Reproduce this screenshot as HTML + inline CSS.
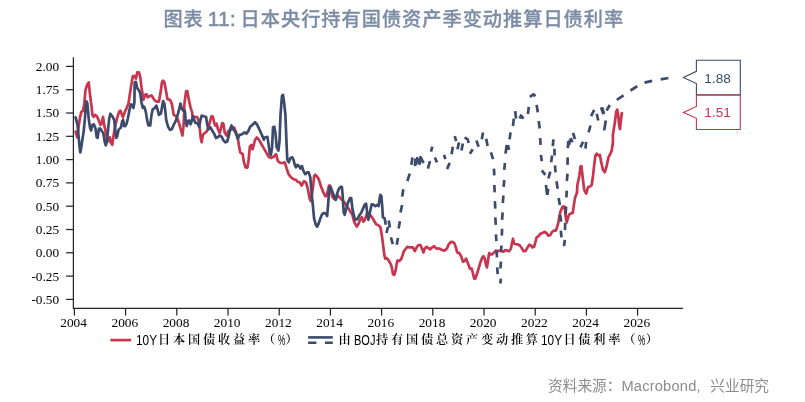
<!DOCTYPE html>
<html lang="zh-CN"><head><meta charset="utf-8"><title>图表 11</title>
<style>
html,body{margin:0;padding:0;background:#fff;}
body{width:805px;height:402px;position:relative;overflow:hidden;font-family:"Liberation Sans","Noto Sans CJK SC",sans-serif;}
.title{position:absolute;left:163.4px;top:5.0px;text-align:left;font-size:19.2px;font-weight:500;color:#7c8ca5;-webkit-text-stroke:0.3px #7c8ca5;white-space:nowrap;line-height:28px;letter-spacing:1.0px;word-spacing:-2px;}
.lg{position:absolute;top:329.2px;font-family:"Liberation Sans","Noto Serif CJK SC",serif;font-size:12.2px;font-weight:600;letter-spacing:2.8px;line-height:20px;color:#000;white-space:nowrap;}
.lg i{font-style:normal;display:inline-block;vertical-align:baseline;letter-spacing:0;font-family:"Liberation Sans",sans-serif;font-size:14.6px;height:14px;position:relative;top:0.5px;font-weight:400;}
.lg i b{font-weight:400;display:inline-block;transform-origin:0 50%;white-space:nowrap;}
.lg i.w3{width:22.5px;}
.lg i.w1{width:7.5px;}
.src{position:absolute;right:36px;top:374.7px;font-size:14.67px;line-height:22px;color:#8c8c8c;white-space:nowrap;letter-spacing:0;word-spacing:5.5px;}
.src span{letter-spacing:0.2px;}
.title b{font-weight:400;font-size:20px;-webkit-text-stroke:0.7px #7c8ca5;letter-spacing:0.6px;}
</style></head><body>
<div class="title">图表 <b>11:</b> 日本央行持有国债资产季变动推算日债利率</div>
<svg width="805" height="402" viewBox="0 0 805 402" style="position:absolute;left:0;top:0">
<g stroke="#262626" stroke-width="1.25" fill="none" shape-rendering="auto">
<path d="M73.4,57.2 V308.4 H683"/>
<path d="M66.1,66.4 H73.4"/>
<path d="M66.1,89.7 H73.4"/>
<path d="M66.1,113.0 H73.4"/>
<path d="M66.1,136.3 H73.4"/>
<path d="M66.1,159.6 H73.4"/>
<path d="M66.1,182.9 H73.4"/>
<path d="M66.1,206.2 H73.4"/>
<path d="M66.1,229.5 H73.4"/>
<path d="M66.1,252.8 H73.4"/>
<path d="M66.1,276.1 H73.4"/>
<path d="M66.1,299.4 H73.4"/>
<path d="M74.4,308.4 V315.6"/>
<path d="M125.6,308.4 V315.6"/>
<path d="M176.8,308.4 V315.6"/>
<path d="M228.0,308.4 V315.6"/>
<path d="M279.2,308.4 V315.6"/>
<path d="M330.4,308.4 V315.6"/>
<path d="M381.6,308.4 V315.6"/>
<path d="M432.8,308.4 V315.6"/>
<path d="M484.0,308.4 V315.6"/>
<path d="M535.2,308.4 V315.6"/>
<path d="M586.4,308.4 V315.6"/>
<path d="M637.6,308.4 V315.6"/>
</g>
<g font-family="'Liberation Serif', serif" font-size="13.33" fill="#000">
<text x="59.2" y="70.8" text-anchor="end">2.00</text>
<text x="59.2" y="94.1" text-anchor="end">1.75</text>
<text x="59.2" y="117.4" text-anchor="end">1.50</text>
<text x="59.2" y="140.7" text-anchor="end">1.25</text>
<text x="59.2" y="164.0" text-anchor="end">1.00</text>
<text x="59.2" y="187.3" text-anchor="end">0.75</text>
<text x="59.2" y="210.6" text-anchor="end">0.50</text>
<text x="59.2" y="233.9" text-anchor="end">0.25</text>
<text x="59.2" y="257.2" text-anchor="end">0.00</text>
<text x="59.2" y="280.5" text-anchor="end">-0.25</text>
<text x="59.2" y="303.8" text-anchor="end">-0.50</text>
<text x="73.6" y="327" text-anchor="middle">2004</text>
<text x="124.8" y="327" text-anchor="middle">2006</text>
<text x="176.0" y="327" text-anchor="middle">2008</text>
<text x="227.2" y="327" text-anchor="middle">2010</text>
<text x="278.4" y="327" text-anchor="middle">2012</text>
<text x="329.6" y="327" text-anchor="middle">2014</text>
<text x="380.8" y="327" text-anchor="middle">2016</text>
<text x="432.0" y="327" text-anchor="middle">2018</text>
<text x="483.2" y="327" text-anchor="middle">2020</text>
<text x="534.4" y="327" text-anchor="middle">2022</text>
<text x="585.6" y="327" text-anchor="middle">2024</text>
<text x="636.8" y="327" text-anchor="middle">2026</text>
</g>
<path d="M75.6,131.7 L77.2,137.3 L78.7,126.1 L80.0,117.4 L81.4,111.8 L83.1,110.6 L84.3,103.7 L85.5,89.9 L87.4,84.3 L88.7,82.4 L89.9,93.6 L91.8,108.5 L92.4,114.9 L93.6,116.8 L94.9,114.9 L96.7,116.2 L98.6,119.9 L100.5,124.9 L101.7,123.6 L103.0,116.8 L104.2,124.9 L106.1,133.6 L107.3,138.6 L108.6,141.0 L109.8,137.3 L111.0,142.9 L112.3,144.8 L113.5,136.1 L115.4,124.9 L117.3,117.4 L119.1,111.8 L120.4,110.6 L121.6,113.7 L122.9,117.4 L124.7,112.4 L126.6,108.1 L128.5,103.5 L130.9,87.4 L132.8,76.2 L134.7,76.2 L135.9,78.7 L137.2,72.4 L139.0,72.4 L140.3,77.4 L141.5,87.4 L143.4,99.8 L145.2,94.8 L146.5,94.2 L147.7,97.3 L149.6,96.1 L151.5,95.4 L152.7,97.3 L154.6,100.4 L157.1,101.7 L158.9,101.7 L160.8,91.1 L161.9,82.4 L163.1,80.6 L164.4,82.4 L165.6,88.7 L167.5,99.2 L170.0,99.9 L171.8,103.6 L173.7,114.8 L176.2,116.3 L178.0,119.9 L179.9,126.1 L181.4,131.7 L182.4,135.5 L183.4,127.4 L184.3,111.2 L184.3,104.8 L186.1,91.1 L187.4,91.1 L188.6,98.6 L190.5,107.3 L192.1,112.3 L192.6,117.4 L194.8,116.8 L197.3,117.4 L198.6,121.2 L199.8,128.6 L200.8,138.6 L201.7,142.3 L202.9,134.9 L204.8,133.0 L206.6,131.7 L208.5,127.4 L210.4,119.9 L211.6,116.2 L212.9,116.8 L214.1,122.4 L215.3,125.5 L216.6,123.7 L217.8,128.6 L219.7,133.0 L220.9,128.6 L222.2,123.0 L223.4,123.7 L224.7,132.4 L226.5,135.5 L228.4,131.1 L230.3,129.9 L232.1,129.3 L234.0,127.4 L235.9,131.7 L237.7,137.3 L239.0,146.0 L240.2,152.3 L242.7,154.1 L243.7,161.1 L245.5,167.3 L247.4,167.6 L248.6,159.9 L249.9,146.5 L251.4,145.0 L252.6,149.3 L255.0,140.0 L256.8,137.5 L258.7,139.4 L261.2,143.7 L263.7,148.1 L266.2,152.4 L268.7,156.8 L271.1,158.0 L273.6,156.8 L276.1,154.3 L278.0,161.1 L280.5,163.0 L283.0,163.0 L284.8,162.4 L286.7,168.6 L288.6,174.2 L291.0,177.3 L293.5,179.2 L296.0,179.8 L297.9,182.0 L299.8,182.3 L301.6,185.6 L304.1,181.2 L306.0,182.5 L307.8,188.7 L309.7,198.7 L310.7,201.1 L312.2,192.4 L313.4,183.7 L314.1,176.0 L315.3,174.8 L317.2,176.7 L319.0,179.8 L320.9,186.2 L323.4,192.4 L325.2,196.2 L326.5,196.2 L327.7,191.2 L329.0,185.6 L330.2,185.6 L331.5,193.7 L332.7,197.4 L334.6,199.3 L336.4,198.0 L337.7,195.5 L339.6,197.4 L342.0,199.9 L344.5,202.4 L347.0,206.1 L348.9,209.2 L352.4,214.8 L354.3,222.3 L356.8,226.6 L358.7,223.5 L360.5,218.6 L361.8,217.3 L363.4,221.7 L364.9,219.8 L366.7,214.2 L368.6,213.6 L370.5,215.4 L372.3,217.9 L374.2,221.0 L376.1,224.2 L378.6,225.4 L380.4,227.3 L381.8,235.0 L383.1,245.0 L384.3,254.9 L385.2,258.6 L386.8,258.0 L388.7,260.5 L390.5,263.6 L391.8,267.3 L393.0,274.2 L394.3,274.8 L395.5,271.1 L396.7,263.6 L397.6,260.5 L399.2,261.1 L401.1,259.3 L402.3,256.1 L403.6,251.8 L405.4,249.3 L407.3,246.8 L409.2,247.4 L411.0,247.4 L412.9,247.4 L414.8,251.2 L416.6,247.4 L418.5,245.0 L420.4,245.0 L422.0,248.7 L423.5,252.4 L424.7,248.7 L426.6,246.8 L428.5,248.1 L430.3,249.3 L432.2,247.4 L434.1,246.2 L435.9,248.1 L437.8,248.7 L439.7,248.7 L441.9,250.0 L444.4,250.6 L446.8,248.7 L448.7,244.4 L450.6,242.2 L452.4,241.9 L454.3,243.1 L455.9,247.5 L457.2,252.4 L459.3,253.1 L461.1,256.2 L463.0,261.8 L464.3,261.1 L466.1,258.7 L468.0,263.6 L469.9,268.6 L471.7,268.6 L473.0,273.6 L474.2,278.6 L475.4,278.6 L476.7,274.8 L478.6,268.6 L480.4,262.4 L482.3,257.4 L483.5,256.2 L484.8,258.7 L486.0,264.9 L487.0,267.4 L488.3,258.7 L489.1,253.1 L490.4,254.3 L492.2,254.3 L494.1,252.4 L496.0,250.6 L497.8,251.2 L499.7,250.6 L501.6,251.2 L503.4,251.8 L505.3,250.0 L507.2,250.6 L509.0,251.2 L510.9,248.7 L512.1,242.5 L513.0,238.7 L514.2,243.7 L516.1,244.3 L517.9,244.3 L519.8,245.5 L521.7,248.0 L523.5,251.1 L525.4,251.1 L527.3,248.0 L529.1,244.9 L531.0,245.5 L532.2,247.4 L534.1,246.8 L535.3,242.4 L536.6,237.4 L538.5,236.2 L540.3,233.7 L542.2,233.1 L544.7,231.8 L546.5,233.1 L548.4,235.6 L550.3,235.0 L552.1,231.8 L554.0,230.6 L555.9,230.6 L556.5,229.1 L558.4,222.3 L559.6,214.8 L560.8,210.5 L562.7,206.7 L564.6,206.7 L565.6,216.1 L566.7,222.3 L567.7,218.6 L568.9,214.8 L570.5,213.6 L572.7,213.0 L573.9,204.9 L575.1,197.4 L577.0,192.4 L577.4,185.0 L579.3,176.0 L580.5,166.7 L581.4,166.1 L582.4,174.8 L583.6,185.0 L584.2,189.9 L586.2,193.6 L588.0,187.4 L590.4,186.1 L591.7,185.0 L593.0,176.0 L594.2,164.9 L595.4,155.5 L596.7,153.7 L598.6,155.5 L599.8,154.9 L601.0,161.1 L602.9,169.8 L604.8,172.3 L606.6,166.1 L608.5,157.4 L610.4,153.7 L611.6,151.2 L612.9,142.5 L612.9,134.8 L614.7,123.6 L616.2,111.8 L617.2,109.6 L618.2,115.1 L619.1,124.9 L620.0,129.2 L620.9,119.9 L621.9,113.0" fill="none" stroke="#c8354e" stroke-width="2.7" stroke-linejoin="round" stroke-linecap="round"/>
<path d="M75.6,117.4 L77.5,124.9 L78.7,137.3 L79.7,148.5 L80.3,152.5 L81.2,148.0 L81.8,143.5 L83.7,131.1 L84.9,118.7 L85.9,104.0 L86.6,101.5 L87.4,103.5 L88.7,118.7 L90.1,128.0 L91.1,130.5 L92.4,124.9 L93.9,124.3 L95.5,128.6 L96.7,137.3 L97.6,137.9 L98.9,128.6 L100.5,128.6 L101.7,131.1 L103.3,133.0 L104.8,142.3 L105.8,145.4 L106.7,142.3 L107.9,131.1 L109.2,118.7 L110.4,113.7 L112.3,116.2 L114.2,119.9 L115.4,131.1 L116.3,137.9 L117.3,136.1 L118.5,129.9 L121.0,127.4 L122.2,121.1 L123.2,119.9 L124.1,126.1 L125.3,126.1 L126.6,123.6 L127.8,118.7 L129.7,108.7 L130.9,104.4 L132.2,105.0 L133.4,108.1 L134.4,102.5 L134.7,82.4 L135.9,81.8 L137.2,88.0 L139.0,90.5 L140.3,93.6 L141.5,102.3 L142.8,107.9 L143.4,106.2 L144.6,107.5 L145.9,112.4 L147.1,119.9 L148.4,125.5 L150.2,125.5 L151.5,114.9 L152.7,109.3 L154.6,108.1 L156.4,105.6 L157.7,110.0 L158.9,114.9 L160.8,113.7 L162.0,107.5 L162.0,107.3 L163.1,101.1 L164.4,103.6 L165.6,113.5 L166.2,119.9 L168.1,126.8 L170.0,129.9 L171.8,129.3 L173.7,124.9 L176.2,119.9 L178.0,113.7 L179.3,108.7 L180.5,103.6 L181.8,108.6 L183.0,110.4 L184.9,111.0 L185.5,118.7 L186.7,126.1 L188.0,121.2 L189.2,120.5 L190.5,124.3 L191.7,121.2 L193.0,116.2 L194.2,119.9 L195.4,123.0 L197.3,123.0 L199.2,126.8 L200.4,119.9 L201.7,115.6 L203.5,116.2 L206.0,116.8 L207.3,124.9 L208.5,129.3 L210.4,127.4 L212.2,130.5 L214.1,133.6 L216.0,138.0 L217.8,137.3 L219.7,135.5 L221.6,136.7 L223.4,140.4 L225.3,142.3 L227.2,141.7 L229.0,134.9 L230.3,128.6 L231.5,125.5 L233.4,129.3 L235.2,131.7 L236.5,134.9 L237.7,138.6 L239.6,134.9 L242.1,134.2 L244.6,132.4 L246.4,133.6 L248.3,131.1 L250.2,126.8 L252.5,124.8 L255.0,122.3 L256.8,124.2 L259.3,129.2 L261.8,134.8 L263.9,139.8 L263.9,137.5 L265.5,137.5 L267.4,136.9 L268.7,145.0 L269.9,153.7 L270.9,154.9 L272.1,147.4 L273.0,127.3 L274.3,126.7 L275.5,133.5 L276.7,147.4 L278.4,150.5 L279.5,141.2 L280.5,114.9 L282.0,95.6 L283.0,95.0 L284.1,102.4 L285.4,114.9 L286.7,147.4 L287.3,159.9 L288.8,162.4 L290.4,158.0 L292.3,157.4 L293.5,159.9 L294.8,164.9 L296.0,167.3 L297.3,164.9 L299.1,166.1 L300.4,168.6 L302.0,166.1 L303.5,171.1 L305.3,174.2 L307.2,172.3 L308.7,172.3 L310.3,177.3 L311.6,192.4 L312.8,204.9 L314.1,218.6 L315.9,224.8 L317.2,226.6 L318.4,224.2 L320.3,218.6 L322.1,214.2 L324.0,213.0 L325.9,213.6 L327.1,216.1 L328.1,204.9 L329.0,192.4 L329.6,186.8 L330.8,187.5 L332.7,192.4 L334.6,197.4 L335.8,199.9 L337.1,193.7 L338.9,188.7 L340.8,186.8 L341.9,186.8 L342.7,196.2 L343.7,212.3 L344.7,214.8 L346.2,208.6 L348.1,202.4 L350.0,198.0 L351.2,198.0 L352.4,208.6 L354.3,217.3 L355.5,219.8 L357.4,219.2 L359.3,215.4 L361.1,213.0 L363.0,208.6 L364.9,204.3 L366.1,203.6 L367.1,212.3 L368.4,219.8 L369.9,212.3 L371.7,204.3 L373.6,204.9 L375.4,206.1 L377.3,204.9 L378.6,206.1 L379.6,198.7 L380.4,194.9 L381.4,196.2 L382.3,207.4 L382.9,217.3 L384.5,217.9 L385.4,222.3 L385.5,223.7" fill="none" stroke="#3c4b6b" stroke-width="2.7" stroke-linejoin="round" stroke-linecap="round"/>
<path d="M388.7,220.5 L389.9,227.4 M388.0,226.8 L386.5,233.0 M390.9,237.3 L392.8,244.2 M398.0,238.0 L396.7,244.8 M399.9,221.2 L398.6,228.6 M402.1,205.0 L400.5,212.5 M403.3,189.2 L402.2,196.6 M409.7,173.6 L407.4,181.1 M412.4,157.5 L411.4,164.9 M415.5,158.7 L414.9,166.2 M416.0,165.0 L417.2,158.2 L419.6,163.8 L420.6,157.0 L423.6,163.1 M430.0,161.2 L427.9,168.7 M432.3,146.7 L431.0,151.7 M434.8,157.5 L437.0,162.4 M444.1,154.8 L445.3,159.2 M449.7,162.9 L447.0,169.1 M452.8,146.7 L451.6,154.2 M454.7,136.2 L456.2,141.1 M459.0,142.4 L457.5,149.2 M462.8,143.6 L461.5,150.5 M464.6,137.4 L467.7,139.3 L468.6,143.0 M472.7,149.2 L469.9,153.8 M476.4,140.5 L478.6,146.7 M483.0,132.4 L481.8,139.3 M486.2,138.7 L487.6,146.1 M490.9,152.4 L493.1,159.2 M493.9,168.6 L494.3,175.4 M494.3,185.0 L494.7,192.4 M494.9,201.1 L495.3,208.6 M495.3,217.3 L495.8,224.8 M495.9,234.3 L496.4,241.2 M496.5,250.5 L497.0,257.3 M497.2,267.3 L497.7,274.1 M500.9,278.6 L500.3,283.5 M500.9,261.7 L500.5,268.5 M501.4,245.5 L501.1,251.7 M502.1,228.7 L501.8,235.6 M502.6,212.3 L502.1,219.8 M503.4,195.5 L502.8,203.0 M504.3,180.0 L503.6,186.8 M504.9,163.0 L504.3,169.8 M506.7,144.9 L505.5,153.6 M508.0,144.9 L508.9,149.9 M510.5,132.3 L509.6,139.3 M513.0,126.0 L513.8,118.6 M515.2,111.1 L516.1,118.6 M519.8,118.6 L521.0,115.5 L523.5,118.6 M527.9,114.2 L528.8,106.8 M529.8,96.8 L533.5,94.3 L535.3,96.2 M536.6,104.9 L537.8,112.4 M538.7,121.1 L539.7,128.5 M540.1,138.1 L540.6,144.9 M540.9,154.9 L541.8,161.1 M541.8,170.4 L545.3,174.8 M545.9,185.0 L547.2,194.9 M548.2,188.7 L547.4,194.9 M550.3,171.7 L548.4,178.5 M552.1,155.5 L551.1,162.3 M553.4,139.3 L552.8,146.2 M554.4,148.7 L554.6,155.5 M555.0,165.4 L555.5,172.3 M556.5,181.2 L557.7,188.7 M558.6,198.0 L559.9,204.9 M560.2,214.8 L561.1,221.7 M560.8,230.6 L561.5,237.4 M564.8,239.9 L564.0,246.1 M565.2,222.9 L565.0,230.0 M566.1,206.7 L565.6,214.2 M566.7,190.6 L566.4,197.4 M567.5,173.6 L566.8,181.0 M567.7,157.4 L567.5,164.9 M568.3,141.2 L567.8,148.1 M570.0,139.5 L569.0,145.0 M570.6,137.9 L572.4,142.3 M573.1,132.9 L574.9,139.2 M583.0,141.8 L580.5,147.4 M586.1,141.8 L585.5,148.7 M590.5,125.5 L588.6,132.3 M594.2,109.9 L591.1,116.1 M596.7,113.7 L598.3,120.5 M601.0,107.4 L603.5,114.3 M601.9,107.2 L604.1,113.6 M605.8,120.5 L604.2,130.4 M609.8,105.0 L606.6,110.5 M616.8,99.8 L623.6,95.4 M630.5,90.5 L637.3,86.1 M644.5,82.6 L652.2,80.9 M660.7,79.3 L668.4,78.0" fill="none" stroke="#3c4b6b" stroke-width="2.7" stroke-linejoin="round" stroke-linecap="butt"/>
<path d="M696.4,60.3 H740.3 V94.9 H696.4 V83.6 L683.4,77.5 L696.4,71.3 Z" fill="#fff" stroke="#3c4b6b" stroke-width="1.1"/>
<path d="M696.4,95.2 H740.3 V129.5 H696.4 V118.3 L683.4,112.5 L696.4,106.4 Z" fill="#fff" stroke="#c8354e" stroke-width="1.1"/>
<text x="717.6" y="82.9" text-anchor="middle" font-family="'Liberation Sans', sans-serif" font-size="13.6" fill="#3c4b6b">1.88</text>
<text x="717.6" y="117.3" text-anchor="middle" font-family="'Liberation Sans', sans-serif" font-size="13.6" fill="#c8354e">1.51</text>
<path d="M110.4,340.1 H131.1" stroke="#c8354e" stroke-width="2.7" fill="none"/>
<path d="M308.1,337.4 H332.8" stroke="#3c4b6b" stroke-width="2.6" fill="none"/>
<path d="M308.1,342.8 H316.4 M325,342.8 H332.8" stroke="#3c4b6b" stroke-width="2.6" fill="none"/>
</svg>
<div class="lg" id="lg1" style="left:135.5px"><i class="w3"><b style="transform:scaleX(.81)">10Y</b></i>日本国债收益率（<i class="w1"><b style="transform:scaleX(.56)">%</b></i>）</div>
<div class="lg" id="lg2" style="left:338.5px">由<i class="w3"><b style="transform:scaleX(.755)">BOJ</b></i>持有国债总资产变动推算<i class="w3"><b style="transform:scaleX(.81)">10Y</b></i>日债利率（<i class="w1"><b style="transform:scaleX(.56)">%</b></i>）</div>
<div class="src" id="src">资料来源：<span>Macrobond,</span> 兴业研究</div>
</body></html>
